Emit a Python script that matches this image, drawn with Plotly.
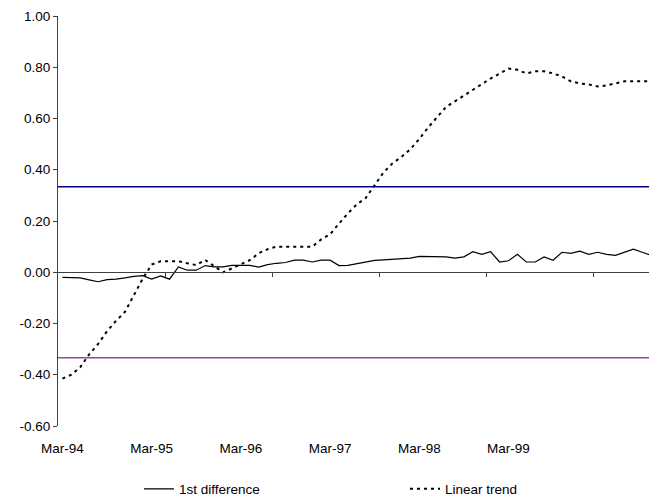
import plotly.graph_objects as go

# ---- data ----
first_difference = [
    -0.020, -0.020, -0.022, -0.030, -0.037, -0.029, -0.027, -0.022, -0.016, -0.013,
    -0.027, -0.014, -0.027, 0.021, 0.008, 0.008, 0.026, 0.021, 0.021, 0.027,
    0.027, 0.027, 0.020, 0.030, 0.035, 0.038, 0.047, 0.047, 0.040, 0.047,
    0.047, 0.026, 0.027, 0.033, 0.040, 0.046, 0.048, 0.050, 0.053, 0.055,
    0.062, 0.062, 0.062, 0.060, 0.055, 0.060, 0.080, 0.070, 0.080, 0.040,
    0.045, 0.070, 0.040, 0.040, 0.060, 0.047, 0.078, 0.074, 0.082, 0.070,
    0.078, 0.070, 0.066, 0.078, 0.090, 0.078, 0.066, 0.090,
]
linear_trend = [
    -0.415, -0.400, -0.370, -0.320, -0.280, -0.230, -0.190, -0.155, -0.090, -0.025,
    0.030, 0.043, 0.043, 0.043, 0.035, 0.028, 0.048, 0.025, 0.000, 0.015,
    0.030, 0.047, 0.074, 0.090, 0.100, 0.100, 0.100, 0.100, 0.100, 0.128,
    0.148, 0.190, 0.230, 0.265, 0.290, 0.340, 0.390, 0.425, 0.450, 0.480,
    0.520, 0.565, 0.605, 0.645, 0.667, 0.690, 0.710, 0.733, 0.756, 0.775,
    0.795, 0.790, 0.776, 0.784, 0.784, 0.776, 0.764, 0.745, 0.737, 0.733,
    0.725, 0.729, 0.737, 0.745, 0.745, 0.745, 0.745, 0.745,
]
upper_bound = 1 / 3
lower_bound = -1 / 3

x_label_positions = [0, 10, 20, 30, 40, 50]
x_labels = ["Mar-94", "Mar-95", "Mar-96", "Mar-97", "Mar-98", "Mar-99"]
x_tick_marks = [11.5, 23.5, 35.5, 47.5, 59.5]

y_tick_values = [1.0, 0.8, 0.6, 0.4, 0.2, 0.0, -0.2, -0.4, -0.6]
y_tick_labels = ["1.00", "0.80", "0.60", "0.40", "0.20", "0.00", "-0.20", "-0.40", "-0.60"]

# ---- figure ----
n = len(first_difference)
idx = list(range(n))
x_range = [-0.5, 66.65]
y_range = [-0.6, 1.0]
FONT = "Liberation Sans, Arial, sans-serif"
FS = 13.5
W, H = 649, 493

fig = go.Figure()

fig.add_trace(go.Scatter(
    x=[x_range[0], x_range[1]], y=[upper_bound, upper_bound],
    mode="lines", line=dict(color="#000080", width=1.5),
    showlegend=False, hoverinfo="skip", xaxis="x2",
))
fig.add_trace(go.Scatter(
    x=[x_range[0], x_range[1]], y=[lower_bound, lower_bound],
    mode="lines", line=dict(color="#9B40B0", width=1.5),
    showlegend=False, hoverinfo="skip", xaxis="x2",
))
fig.add_trace(go.Scatter(
    x=idx, y=first_difference, mode="lines", name="1st difference",
    line=dict(color="#000000", width=1.2),
))
fig.add_trace(go.Scatter(
    x=idx, y=linear_trend, mode="lines", name="Linear trend",
    line=dict(color="#000000", width=2.0, dash="3px,4px"),
))

zero_pos = (0 - y_range[0]) / (y_range[1] - y_range[0])

fig.update_layout(
    width=W, height=H,
    margin=dict(l=50, r=0, t=8, b=75),
    paper_bgcolor="white", plot_bgcolor="white",
    font=dict(family=FONT, size=FS, color="#000000"),
    xaxis=dict(
        range=x_range, anchor="free", position=zero_pos, side="bottom",
        showline=True, linecolor="#404040", linewidth=1,
        tickmode="array", tickvals=x_tick_marks, ticks="outside",
        ticklen=4, tickcolor="#404040", tickwidth=1,
        showticklabels=False, showgrid=False, zeroline=False,
    ),
    xaxis2=dict(
        range=x_range, overlaying="x", anchor="y", side="bottom",
        showline=False, showgrid=False, zeroline=False,
        tickmode="array", tickvals=x_label_positions, ticktext=x_labels,
        ticks="outside", ticklen=10, tickcolor="rgba(0,0,0,0)",
        tickfont=dict(family=FONT, size=FS, color="#000000"),
    ),
    yaxis=dict(
        range=y_range, showline=True, linecolor="#404040", linewidth=1,
        tickmode="array", tickvals=y_tick_values, ticktext=y_tick_labels,
        ticks="outside", ticklen=4, tickcolor="#404040",
        showgrid=False, zeroline=False,
        tickfont=dict(family=FONT, size=FS, color="#000000"),
    ),
    legend=dict(
        orientation="h", xref="container", yref="container",
        x=131 / W, y=1 - 481 / H, xanchor="left", yanchor="middle",
        entrywidth=221, entrywidthmode="pixels",
        font=dict(family=FONT, size=FS, color="#000000"),
        bgcolor="rgba(0,0,0,0)",
    ),
    showlegend=True,
)

fig.write_html("out.html")
